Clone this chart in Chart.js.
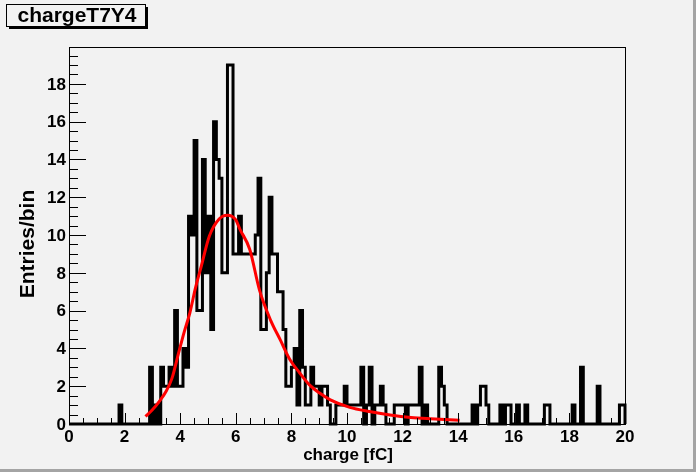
<!DOCTYPE html>
<html>
<head>
<meta charset="utf-8">
<title>chargeT7Y4</title>
<script src="https://cdn.jsdelivr.net/npm/chart.js@4.4.1/dist/chart.umd.min.js"></script>
<style>
  html, body { margin: 0; padding: 0; background: #f2f2f2; overflow: hidden; }
  #wrap { width: 696px; height: 472px; }
</style>
</head>
<body>
<div id="wrap"><canvas id="chargeChart" width="696" height="472"></canvas></div>
<script>
// Histogram chargeT7Y4: 200 bins of 0.1 fC between 0 and 20 fC
const binWidth = 0.1
const xMin = 0
const xMax = 20
const yMax = 19.95

// Entries per bin (one row = 2 fC)
const entries = [
  0, 0, 0, 0, 0, 0, 0, 0, 0, 0,   0, 0, 0, 0, 0, 0, 0, 0, 1, 0,
  0, 0, 0, 0, 0, 0, 0, 0, 0, 3,   0, 1, 0, 3, 2, 2, 3, 2, 6, 2,
  2, 4, 3, 11, 10, 15, 6, 6, 14, 8,   11, 5, 16, 14, 13, 8, 8, 19, 19, 9,
  9, 11, 9, 9, 9, 9, 9, 10, 13, 5,   5, 8, 12, 9, 9, 7, 7, 5, 2, 2,
  3, 4, 1, 6, 3, 1, 1, 3, 2, 2,   1, 2, 2, 1, 0, 0, 1, 1, 1, 2,
  1, 1, 1, 1, 1, 3, 0, 1, 3, 0,   1, 1, 2, 1, 0, 0, 0, 1, 1, 1,
  1, 0, 1, 1, 1, 1, 3, 0, 1, 0,   0, 0, 0, 3, 2, 1, 0, 0, 0, 0,
  0, 0, 0, 0, 0, 1, 0, 1, 2, 2,   1, 0, 0, 0, 0, 1, 0, 1, 1, 0,
  0, 1, 0, 0, 1, 0, 0, 0, 0, 0,   0, 1, 1, 0, 0, 0, 0, 0, 0, 0,
  0, 1, 0, 0, 3, 0, 0, 0, 0, 0,   2, 0, 0, 0, 0, 0, 0, 0, 1, 1,
]

// Fitted curve (red), sampled off the plot
const fitX = [2.75, 3.0, 3.25, 3.5, 3.7, 3.95, 4.15, 4.35, 4.55, 4.75, 5.05, 5.4, 5.7, 6.0, 6.15,
  6.5, 6.85, 7.25, 7.6, 7.95, 8.3, 8.65, 9.0, 9.4, 10.1, 10.8, 11.55, 12.3, 13.0, 14.05]
const fitY = [0.4, 0.75, 1.2, 1.75, 2.4, 3.8, 4.9, 5.9, 7.2, 8.3, 9.95, 10.85, 11.05, 10.8, 10.3,
  9.25, 7.1, 5.5, 4.45, 3.4, 2.7, 2.07, 1.65, 1.28, 0.88, 0.66, 0.48, 0.35, 0.28, 0.2]

// Axis labels
const xTicks = [0, 2, 4, 6, 8, 10, 12, 14, 16, 18, 20]
const yTicks = [0, 2, 4, 6, 8, 10, 12, 14, 16, 18]
const histTitle = "chargeT7Y4"
const xTitle = "charge [fC]"
const yTitle = "Entries/bin"

const bgColor = "#f2f2f2"
const fontFamily = "'Liberation Sans', Arial, Helvetica, sans-serif"

// Histogram outline: left edge of each bin, then close at the upper edge
function histogramPoints() {
  const pts = entries.map((v, i) => ({ x: xMin + i * binWidth, y: v }))
  pts.push({ x: xMin + entries.length * binWidth, y: entries[entries.length - 1] })
  pts.push({ x: xMin + entries.length * binWidth, y: 0 })
  return pts
}

// ROOT style frame, inward ticks, labels and title pave
const rootFrame = {
  id: "rootFrame",
  beforeDraw(chart) {
    const c = chart.ctx
    c.save()
    c.fillStyle = bgColor
    c.fillRect(0, 0, chart.width, chart.height)
    c.restore()
  },
  afterDraw(chart) {
    const c = chart.ctx
    const a = chart.chartArea
    const xs = chart.scales.x
    const ys = chart.scales.y
    c.save()
    c.strokeStyle = "#000"
    c.lineWidth = 1
    c.strokeRect(a.left + 0.5, a.top + 0.5, a.right - a.left, a.bottom - a.top)

    // x ticks (major every 2, minor every 0.5)
    c.beginPath()
    for (let v = xMin; v <= xMax + 1e-9; v += 0.5) {
      const px = Math.round(xs.getPixelForValue(v)) + 0.5
      const len = Math.abs(v % 2) < 1e-9 ? 11 : 6
      c.moveTo(px, a.bottom)
      c.lineTo(px, a.bottom - len)
    }
    // y ticks
    for (let v = 0; v <= yMax; v += 0.5) {
      const py = Math.round(ys.getPixelForValue(v)) + 0.5
      const len = Math.abs(v % 2) < 1e-9 ? 17 : 9
      c.moveTo(a.left, py)
      c.lineTo(a.left + len, py)
    }
    c.stroke()

    c.fillStyle = "#000"
    c.font = "bold 17px " + fontFamily
    c.textAlign = "center"
    c.textBaseline = "alphabetic"
    xTicks.forEach((v) => c.fillText(String(v), xs.getPixelForValue(v), a.bottom + 18))
    c.textAlign = "right"
    c.textBaseline = "middle"
    yTicks.forEach((v) => c.fillText(String(v), a.left - 3, ys.getPixelForValue(v) + 1))

    // axis titles
    c.font = "bold 17px " + fontFamily
    c.textAlign = "center"
    c.textBaseline = "alphabetic"
    c.fillText(xTitle, (a.left + a.right) / 2 + 1, 460)
    c.save()
    c.translate(28, 244)
    c.rotate(-Math.PI / 2)
    c.font = "bold 21px " + fontFamily
    c.textBaseline = "middle"
    c.fillText(yTitle, 0, 0)
    c.restore()

    // title pave with shadow
    c.fillStyle = "#000"
    c.fillRect(9, 26, 139, 3)
    c.fillRect(145, 7, 3, 22)
    c.fillStyle = bgColor
    c.fillRect(6, 4, 139, 22)
    c.strokeRect(6.5, 4.5, 139, 22)
    c.fillStyle = "#000"
    c.font = "bold 21px " + fontFamily
    c.textAlign = "center"
    c.textBaseline = "alphabetic"
    c.fillText(histTitle, 77, 22)

    // canvas border
    c.fillStyle = "#a4a4a4"
    c.fillRect(0, chart.height - 3, chart.width, 3)
    c.fillRect(chart.width - 3, 0, 3, chart.height)
    c.restore()
  },
}

const ctx = document.getElementById("chargeChart").getContext("2d")
const chargeChart = new Chart(ctx, {
  type: "line",
  data: {
    datasets: [
      {
        label: "fit",
        data: fitX.map((x, i) => ({ x: x, y: fitY[i] })),
        borderColor: "#ff0000",
        borderWidth: 3,
        pointRadius: 0,
        cubicInterpolationMode: "monotone",
        fill: false,
        clip: false,
        order: 0,
      },
      {
        label: histTitle,
        data: histogramPoints(),
        borderColor: "#000000",
        borderWidth: 3,
        stepped: true,
        pointRadius: 0,
        fill: false,
        clip: false,
        borderJoinStyle: "miter",
        order: 1,
      },
    ],
  },
  options: {
    responsive: false,
    animation: false,
    devicePixelRatio: 1,
    layout: { padding: { left: 69, top: 47, right: 71, bottom: 48 } },
    scales: {
      x: { type: "linear", min: xMin, max: xMax, display: false },
      y: { type: "linear", min: 0, max: yMax, display: false },
    },
    plugins: {
      legend: { display: false },
      tooltip: { enabled: false },
    },
  },
  plugins: [rootFrame],
})
</script>
</body>
</html>
